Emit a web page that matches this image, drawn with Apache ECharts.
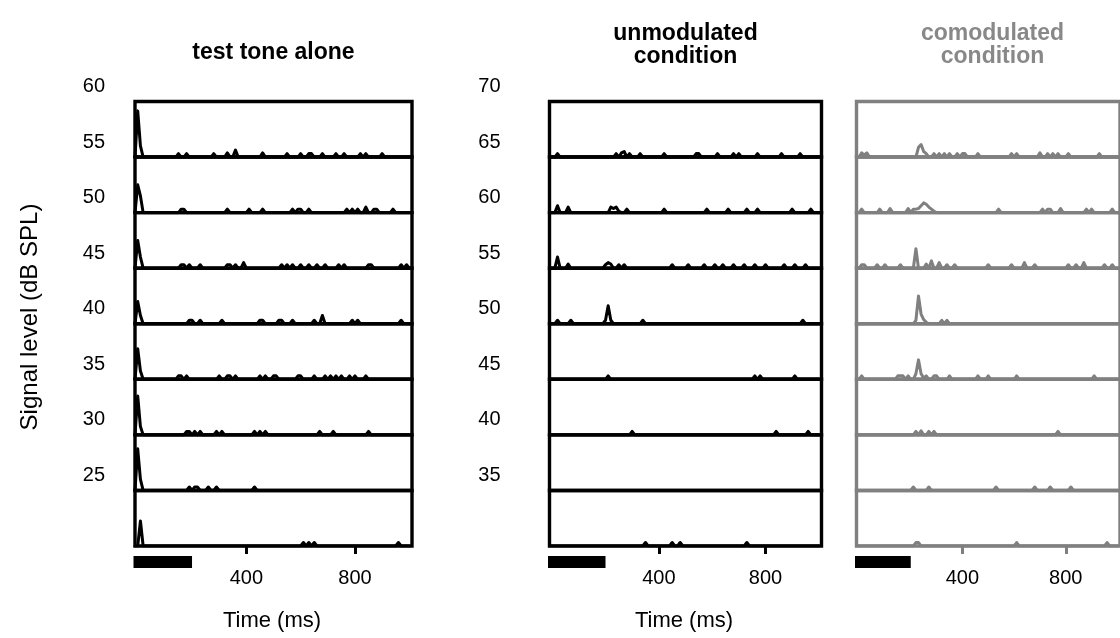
<!DOCTYPE html>
<html>
<head>
<meta charset="utf-8">
<script src="https://cdn.jsdelivr.net/npm/echarts@6/dist/echarts.min.js"></script>
<style>
  html, body { margin: 0; padding: 0; background: #fff; }
  #chart { width: 1120px; height: 638px; }
</style>
</head>
<body>
<div id="chart"></div>
<script>
// ---------------- DATA ----------------
// PSTH bins (ms); each trace lists only its non-zero bins as [bin start (ms), spikes]
const binStart = -10;
const binEnd = 1000;
const binWidth = 10;

const panelTitles = ['test tone alone', 'unmodulated\ncondition', 'comodulated\ncondition'];
const toneLevels = [60, 55, 50, 45, 40, 35, 30, 25];
const maskLevels = [70, 65, 60, 55, 50, 45, 40, 35];
const xTickValues = [400, 800];
const stimulus = [0, 200];

const toneAlone = [
  [[0,13.3],[10,3.2],[150,1],[180,1],[280,1],[330,1.2],[360,2],[460,1.2],[550,1],[600,1],[630,1],[640,1],[680,1],[730,1],[760,1],[820,1],[840,1],[900,1]],
  [[0,8],[10,4.8],[160,1],[170,1],[330,1],[410,1],[460,1],[570,1],[590,1],[600,1],[630,1],[770,1],[790,1],[810,1],[840,1.6],[870,1],[880,1],[940,1]],
  [[0,8],[10,3.2],[160,1],[170,1],[190,1],[230,1],[330,1],[340,1],[360,1],[390,1.6],[530,1],[550,1],[570,1],[600,1],[630,1],[660,1],[690,1],[740,1],[760,1],[850,1],[860,1],[970,1],[990,1]],
  [[0,6.4],[10,2.4],[190,1],[200,1],[230,1],[310,1],[450,1],[460,1],[520,1],[530,1],[570,1],[650,1],[680,2.4],[790,1],[810,1],[970,1]],
  [[0,8.8],[10,2.4],[150,1],[160,1],[180,1],[300,1],[330,1],[340,1],[360,1],[450,1],[470,1],[500,1],[510,1],[590,1],[600,1],[650,1],[690,1],[710,1],[730,1],[750,1],[780,1],[800,1],[840,1]],
  [[0,11.2],[10,2.4],[180,1],[190,1],[210,1],[230,1],[290,1],[310,1],[430,1],[450,1],[470,1],[670,1],[720,1],[850,1]],
  [[0,12],[10,3.2],[190,1],[210,1],[220,1],[260,1],[290,1],[430,1]],
  [[10,7.2],[610,1],[630,1],[650,1],[960,1]]
];

const unmodulated = [
  [[20,1],[240,1],[260,1.2],[270,1.6],[290,1],[330,1],[420,1],[540,1],[550,1],[620,1],[680,1],[700,1],[770,1],[860,1],[930,1]],
  [[20,2],[60,1.6],[220,1.6],[230,1.2],[240,1.6],[250,0.4],[280,1],[420,1],[580,1],[660,1],[730,1],[770,1],[900,1],[970,1]],
  [[20,3.2],[60,1.2],[200,1],[210,1.6],[220,1.2],[250,1],[270,1],[450,1],[510,1],[570,1],[610,1],[640,1],[680,1],[720,1],[760,1],[800,1],[870,1],[910,1],[950,1]],
  [[20,1],[70,1],[200,1],[210,5.2],[220,1],[340,1],[940,1]],
  [[210,1],[760,1],[780,1],[910,1]],
  [[300,1],[840,1],[960,1]],
  [],
  [[350,1],[450,1],[480,1],[730,1]]
];

const comodulated = [
  [[10,1.2],[20,0.6],[30,1.2],[230,2.8],[240,3.6],[250,1.6],[260,1],[290,1],[310,1],[330,1],[350,1],[380,1],[400,1],[410,1],[460,1],[590,1],[610,1],[700,1.2],[730,1],[750,1],[770,1],[810,1],[930,1]],
  [[10,1],[80,1],[120,1.2],[190,1.2],[210,1],[220,1],[230,1.2],[240,2],[250,2.8],[260,2.4],[270,1.6],[280,1],[290,0.4],[540,1],[710,1],[730,1],[740,1],[780,1.2],[880,1],[900,1],[980,1]],
  [[10,1],[20,1],[70,1],[100,1],[160,1],[220,5.6],[260,1.2],[280,2.1],[310,1.6],[340,1],[370,1],[500,1],[590,1],[640,1.6],[680,1],[810,1],[840,1],[870,1.6],[950,1],[980,1]],
  [[220,1],[230,8],[240,2.8],[250,1.2],[260,0.4],[320,1],[340,1]],
  [[10,1],[150,1],[160,1],[170,1],[190,1],[220,1.6],[230,5.6],[240,1.6],[250,0.4],[260,1],[290,1],[300,1],[350,1],[460,1],[500,1],[610,1],[910,1]],
  [[220,1],[240,1.2],[270,1],[290,1],[770,1]],
  [[210,1],[270,1],[530,1],[680,1],[740,1],[820,1]],
  [[220,1],[230,1],[610,1],[960,1]]
];

// ---------------- LAYOUT / STYLE ----------------
const FONT = '"Liberation Sans", Arial, Helvetica, sans-serif';
const GRAY = '#808080';
const panels = [
  { left: 135,   width: 277, color: '#000', traces: toneAlone,   levels: toneLevels, labelMargin: 30, titleColor: '#000' },
  { left: 549.5, width: 272, color: '#000', traces: unmodulated, levels: maskLevels, labelMargin: 49, titleColor: '#000' },
  { left: 856.5, width: 272, color: GRAY,   traces: comodulated, levels: maskLevels, labelMargin: 30, titleColor: '#888', noLabels: true }
];
const frameTop = 101.5, frameBottom = 546;
const nRows = 8;
const rowH = (frameBottom - frameTop) / nRows;
const yMax = 16;

function buildTrace(sparse) {
  const m = new Map(sparse.map(([t, v]) => [t, v]));
  const out = [];
  for (let t = binStart; t <= binEnd; t += binWidth) out.push([t, m.get(t) || 0]);
  return out;
}

const grids = [], xAxes = [], yAxes = [], series = [];

panels.forEach((p, pi) => {
  for (let r = 0; r < nRows; r++) {
    const idx = grids.length;
    const isBottom = r === nRows - 1;
    grids.push({
      left: p.left, width: p.width, top: frameTop + r * rowH, height: rowH,
      show: true, borderColor: p.color, borderWidth: 3.4, backgroundColor: 'transparent'
    });
    xAxes.push({
      gridIndex: idx, type: 'value', min: -10, max: 1010,
      show: true,
      axisLine: { show: false },
      splitLine: { show: false },
      axisTick: isBottom ? { show: true, customValues: xTickValues, length: 8, inside: false, lineStyle: { width: 3, color: p.color } } : { show: false },
      axisLabel: isBottom ? { show: true, customValues: xTickValues, fontSize: 20, color: '#000', fontFamily: FONT, margin: 22 } : { show: false }
    });
    yAxes.push({
      gridIndex: idx, type: 'value', min: 0, max: yMax,
      show: !p.noLabels,
      axisLine: { show: false }, axisTick: { show: false }, splitLine: { show: false },
      axisLabel: {
        show: !p.noLabels, customValues: [yMax], fontSize: 20, color: '#000', fontFamily: FONT,
        margin: p.labelMargin, verticalAlign: 'bottom', lineHeight: 30,
        formatter: (function (lv) { return function () { return String(lv); }; })(p.levels[r])
      }
    });
    series.push({
      type: 'line', xAxisIndex: idx, yAxisIndex: idx,
      data: buildTrace(p.traces[r]),
      showSymbol: false, symbol: 'none', silent: true, animation: false,
      lineStyle: { width: 3, color: p.color, join: 'round', cap: 'round' }
    });
  }
});

// stimulus bars under each panel
panels.forEach((p) => {
  const idx = grids.length;
  grids.push({ left: p.left, width: p.width, top: 556, height: 12, show: false });
  xAxes.push({ gridIndex: idx, type: 'value', min: -10, max: 1010, show: false });
  yAxes.push({ gridIndex: idx, type: 'value', min: 0, max: 1, show: false });
  series.push({
    type: 'custom', xAxisIndex: idx, yAxisIndex: idx, silent: true, animation: false,
    data: [[stimulus[0], stimulus[1]]],
    encode: { x: [0, 1] },
    renderItem: function (params, api) {
      const cs = params.coordSys;
      const pEnd = api.coord([api.value(1), 0]);
      const pTop = api.coord([api.value(1), 1]);
      const x0 = cs.x - 1.5;
      return { type: 'rect', shape: { x: x0, y: pTop[1], width: pEnd[0] - x0, height: pEnd[1] - pTop[1] }, style: { fill: '#000' } };
    }
  });
});

const graphics = [];
panels.forEach((p, pi) => {
  const cx = p.left + p.width / 2;
  graphics.push({
    type: 'text', x: cx, y: pi === 0 ? 53 : 45,
    style: { text: panelTitles[pi], fontSize: 23, fontWeight: 'bold', fontFamily: FONT, fill: p.titleColor,
             textAlign: 'center', textVerticalAlign: 'middle', lineHeight: 23 }
  });
});
graphics.push({ type: 'text', x: 272, y: 621, style: { text: 'Time (ms)', fontSize: 22, fontFamily: FONT, fill: '#000', textAlign: 'center', textVerticalAlign: 'middle' } });
graphics.push({ type: 'text', x: 684, y: 621, style: { text: 'Time (ms)', fontSize: 22, fontFamily: FONT, fill: '#000', textAlign: 'center', textVerticalAlign: 'middle' } });
graphics.push({ type: 'text', x: 30, y: 317, rotation: Math.PI / 2, style: { text: 'Signal level (dB SPL)', fontSize: 24, fontFamily: FONT, fill: '#000', textAlign: 'center', textVerticalAlign: 'middle' } });

const chart = echarts.init(document.getElementById('chart'), null, { renderer: 'canvas' });
chart.setOption({
  backgroundColor: '#fff',
  animation: false,
  grid: grids,
  xAxis: xAxes,
  yAxis: yAxes,
  series: series,
  graphic: graphics
});
</script>
</body>
</html>
